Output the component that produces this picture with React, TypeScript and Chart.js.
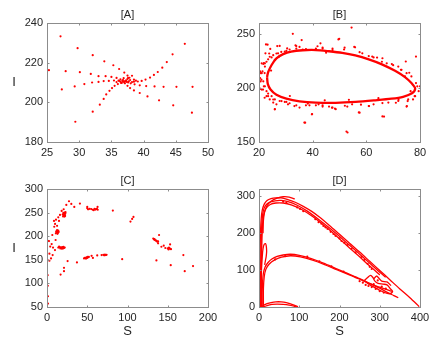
import React, { useEffect, useRef } from 'react';
import { Chart, registerables } from 'chart.js';
Chart.register(...registerables);

type P = [number, number];
const W = 435, H = 345;
const FONT = '"Liberation Sans", Arial, Helvetica, sans-serif';
const TEXT = '#262626';
const AXIS = '#8c8c8c';
const RED = '#ff0000';

// ---------- Panel A ----------
const aTicksX = [25, 30, 35, 40, 45, 50];
const aTicksY = [180, 200, 220, 240];
const aPoints: P[] = [
  [27.1, 233.3], [29.75, 227.3], [32.1, 223.8], [33.9, 220.7], [35.3, 218.7], [36.2, 216.8], [37.0, 215], [37.5, 213.5], [37.6, 212.3],
  [25.3, 216.2], [27.9, 215.7], [30.1, 215.2], [31.8, 214.3], [33.0, 213.2], [34.1, 213.2], [35.0, 212.8], [35.8, 212.3], [36.4, 211.6],
  [27.3, 206.5], [29.3, 208], [30.8, 209.2], [32.0, 210], [33.0, 210.3], [33.8, 210.7], [34.6, 210.8], [35.4, 211], [36.1, 211],
  [29.4, 190.2], [32.1, 195.3], [33.2, 198.8], [33.8, 201.7], [34.2, 204], [34.7, 205.8], [35.1, 207.2], [35.5, 208.3], [36.0, 209.2], [36.5, 209.8],
  [46.4, 229.5], [44.5, 224.2], [43.6, 220.3], [42.9, 217.5], [42.2, 215.3], [41.6, 213.8], [41.0, 212.5], [40.3, 211.5], [39.7, 210.8], [39.1, 210.5], [38.5, 210.4],
  [47.6, 207.8], [45.1, 207.8], [43.1, 207.8], [41.7, 208], [40.4, 208.2], [39.4, 208.6], [38.6, 209.1], [38.0, 209.6],
  [47.5, 194.8], [44.6, 198.5], [42.4, 201], [40.6, 203], [39.4, 204.7], [38.5, 206], [37.9, 207.2], [37.5, 208.3],
  [36.8, 211.2], [37.3, 211.1], [37.7, 210.6], [37.6, 210], [37.1, 209.6], [36.6, 209.8], [36.4, 210.4], [36.7, 210.9],
  [37.2, 210.8], [37.4, 210.3], [37.0, 210.0], [36.8, 210.4], [37.1, 210.6], [37.9, 211.2], [38.2, 210.2], [36.2, 210.8],
  [35.8, 210.2], [37.5, 211.8], [38.5, 211.5], [38.8, 210.9], [37.8, 212.4], [38.2, 213.4], [36.9, 212.2]
];

// ---------- Panel B ----------
const bTicksX = [20, 40, 60, 80];
const bTicksY = [150, 200, 250];
const bLoop: P[] = [
  [23.0, 210], [23.4, 214.5], [24.7, 221.2], [26.5, 227.3], [29.0, 231.2], [32.0, 233.6], [36.3, 234.8], [41.2, 235.0],
  [46.1, 233.9], [51.0, 232.4], [55.9, 230], [60.9, 226.4], [65.8, 221.8], [70.7, 215.8], [74.4, 210], [76.8, 204.5],
  [78.2, 199.5], [77.0, 195.0], [73.7, 191.8], [69.4, 190], [63.3, 188.5], [56.0, 187], [48.6, 186.2], [41.2, 186.4],
  [35.1, 187.6], [30.2, 190], [26.5, 193.6], [24.3, 198.5], [23.3, 203.5], [23.0, 210]
];
const bNoise: P[] = [
  [23.2, 240], [27.7, 238.8], [32.6, 250], [33.6, 239.4], [35.1, 237.9], [37.5, 235.8], [41.8, 238.5], [43.7, 236.4],
  [49.6, 244.8], [51.7, 235.5], [54.5, 255.8], [55.5, 237.9], [60.9, 229.4], [62.7, 228.2], [65.8, 224.2], [67.6, 222.7],
  [71.9, 219.7], [73.1, 216.7], [75.0, 213.6], [76.8, 210.6], [79.0, 201.5], [78.5, 204.5],
  [21.0, 222.7], [21.3, 215.2], [22.2, 219.7], [23.8, 231.8], [24.0, 228.8], [20.6, 213.6], [20.4, 209.1], [21.6, 206.1],
  [21.8, 201.5], [21.0, 198.5], [22.8, 192.4], [24.0, 189.4], [25.3, 186.4], [25.9, 180.3], [26.5, 184.8],
  [29.6, 187], [30.8, 184.8], [35.1, 181.8], [37.5, 183.9], [38.2, 185.5], [39.8, 175.8], [41.2, 183.9], [43.7, 182.7],
  [47.4, 181.8], [48.6, 180.3], [52.9, 182.7], [54.7, 184.8], [57.2, 177.3], [60.9, 183.3], [62.7, 184.8], [66.0, 173.6],
  [68.2, 186.4], [71.9, 187.9], [75.0, 182.7], [75.6, 189.4], [78.0, 192.4], [77.4, 189.4], [37.2, 167.9], [52.6, 159.7],
  [22.4, 232], [25.9, 225.9], [27.1, 232], [29.6, 233.5], [25.3, 189.3], [28.4, 187.8], [42.2, 184.8], [47.2, 181.7],
  [61.0, 183.2], [71.0, 186.3], [22.1, 190.9], [21.5, 198.5], [22.1, 213.7], [74.4, 210.7], [72.9, 216.8], [66.0, 227.4],
  [62.2, 229], [78.5, 229], [74.7, 224.4], [80.0, 201.5], [78.2, 192.4], [75.1, 183.2], [75.4, 187.8], [26.8, 238.7],
  [33.9, 238.7], [47.4, 235], [51.9, 237.2], [55.8, 237.5], [35.9, 244.2], [49.9, 245.4], [42.9, 241.2], [22.6, 240.2],
  [21.8, 222.9], [20.4, 215.2], [20.9, 207.6], [20.4, 199.1], [23.4, 192.4], [25.9, 180.2], [33.2, 183.2], [36.9, 168],
  [39.7, 175.6], [53.0, 158.8], [57.5, 177.1], [66.6, 173.5], [24.2, 236], [30.5, 236.5], [58.5, 232], [69.5, 222],
  [44.5, 188.5], [53.5, 189], [31.5, 192.5], [64.5, 190.5], [76.5, 197], [24.5, 216], [27.5, 229], [45, 232.5],
  [21.6, 222.1], [22.2, 222.7], [22.8, 224.2], [23.4, 226.4], [24.7, 228.2], [25.3, 230.3], [26.5, 231.8], [28.3, 233.3],
  [30.2, 234.2], [31.4, 235.5], [33.9, 236.4], [36.3, 235.5], [41.2, 236.4], [43.7, 237.3], [47.4, 236.4], [21.0, 213.6],
  [20.6, 206.0], [20.1, 200.0], [22.2, 201.5], [22.8, 197.0], [23.4, 194.8], [24.7, 192.4], [25.9, 189.4], [27.7, 187.9],
  [30.2, 187.0], [31.4, 185.8], [33.9, 183.9], [38.8, 183.9], [43.7, 183.9], [46.1, 182.7], [48.3, 180.9],
  [57.5, 233], [64, 228], [70, 221], [76, 214], [79.5, 197], [72, 189], [66, 186], [58, 184.5], [52, 183.5]
];

// ---------- Panel C ----------
const cTicksX = [0, 50, 100, 150, 200];
const cTicksY = [50, 100, 150, 200, 250, 300];
const cPoints: P[] = [
  [27.3, 274], [30.2, 268.4], [33.9, 262], [40.9, 269.1], [24, 266.3], [20.7, 257.1], [18.2, 253.5],
  [20, 242], [20.5, 245], [21, 248], [21.5, 250], [22, 246], [22.5, 243], [21.2, 244], [20.2, 249], [22.8, 248], [19.5, 246], [21.8, 241.5], [23, 251],
  [16.1, 245], [14, 240], [11.2, 235.1], [8.7, 232.3], [14.9, 232.3], [10, 226], [9, 220], [12.5, 222],
  [11, 206], [12, 208], [13, 210], [14, 212], [12.5, 213], [11.5, 210], [13.5, 207], [14.5, 209], [12, 211], [13, 205],
  [6.6, 202.5], [10.7, 191.9], [5.8, 183.4], [2.5, 189.7], [1, 190], [4, 178], [7.5, 176],
  [14, 176], [15, 178], [16, 177], [17, 175.5], [18, 176], [19, 177], [20, 174], [21, 175], [22, 176], [20.5, 177.5], [16.5, 174], [18.5, 173.5],
  [9.9, 170.6], [5, 152.9], [3, 148], [0.8, 149.3], [25.6, 147.2], [37.2, 144.4], [21.1, 133], [16.9, 118.8], [21.1, 125.9],
  [0.8, 117.4], [1, 95], [1.2, 72.8], [1.2, 57.2], [3, 163], [7, 160],
  [46, 153], [47, 154], [48, 153.5], [49, 155], [50, 154], [51, 155.5], [52, 156], [48.5, 152.5], [50.5, 156.5],
  [55.4, 158.5], [62.4, 159.2], [57, 154], [67.8, 160], [70, 160.5], [71, 159.5], [72, 161], [73, 160], [74, 160.5],
  [50, 262], [50, 259.2], [51, 257], [53, 258], [55, 257.5], [57, 256], [59, 258], [60, 256.5], [61, 257.5], [62, 258], [63, 256], [58, 255], [62.8, 262],
  [81.8, 254.3], [93.4, 151.4], [103.7, 230.9], [105.8, 236.5], [107.4, 240.8],
  [132, 195], [133, 193], [134, 192], [135, 191], [136, 190], [137, 188.5], [138, 189], [133.5, 194],
  [139.2, 202.5], [138, 184.8], [142.1, 177.7], [145, 180], [147, 175],
  [150, 174], [151, 172], [152, 175], [153, 173], [154, 172.5], [151.5, 176], [152.9, 182.6],
  [135.9, 148.6], [153.7, 138.7], [169.4, 160], [171.1, 125.9], [181.4, 136.6]
];

// ---------- Panel D ----------
const dTicksX = [0, 100, 200, 300, 400];
const dTicksY = [0, 100, 200, 300];
const dOuter: P[] = [
  [2, 0], [2, 60], [2.5, 120], [3, 170], [4, 210], [5.5, 240], [8, 262], [13, 279], [20, 289], [30, 294], [42, 296],
  [55, 296], [70, 292], [90, 284], [110, 273], [130, 260], [150, 244], [175, 221], [200, 197], [225, 173], [250, 149],
  [275, 124], [300, 99], [325, 74], [350, 49], [375, 25], [398, 1]
];
const dStrand2: P[] = [
  [4, 0], [4, 80], [5, 150], [6, 200], [8, 240], [11, 262], [17, 276], [26, 284], [40, 288], [55, 289], [72, 286],
  [95, 276], [120, 260], [150, 236], [180, 210], [210, 182], [240, 153], [265, 129], [285, 109], [300, 94], [315, 81]
];
const dStrand3: P[] = [
  [6, 0], [6, 100], [7, 170], [9, 225], [12, 252], [18, 268], [28, 278], [42, 282], [60, 282], [80, 277], [105, 265],
  [135, 244], [165, 218], [195, 190], [225, 160], [250, 136], [270, 116], [288, 99], [300, 87]
];
const dStrand4: P[] = [
  [10, 200], [11, 235], [14, 258], [20, 275], [30, 287], [45, 295], [60, 299], [75, 298], [89, 293]
];
const dSpike: P[] = [[0.8, 0], [0.8, 100], [1, 180], [1.2, 225]];
const dMid1: P[] = [
  [8, 0], [8, 40], [9, 70], [11, 92], [15, 108], [22, 120], [32, 130], [45, 137], [60, 141], [78, 143], [100, 140],
  [130, 131], [160, 119], [190, 105], [220, 91], [250, 77], [275, 64], [300, 51], [320, 39], [335, 31], [346, 25]
];
const dMid2: P[] = [
  [11, 0], [11, 50], [13, 82], [17, 102], [25, 116], [38, 127], [56, 135], [78, 139], [103, 136], [133, 127],
  [163, 115], [193, 101], [223, 88], [253, 74], [278, 62], [300, 54], [318, 47], [330, 42]
];
const dLoop: P[] = [
  [5, 0], [5, 50], [6, 100], [8, 135], [10, 158], [13, 170], [16, 172], [18, 166], [19, 152], [18, 138], [16, 126], [14, 114]
];
const dHook1: P[] = [
  [262, 72], [270, 80], [277, 86], [283, 80], [288, 70], [296, 64], [308, 62], [318, 60], [326, 50], [332, 42],
  [325, 36], [310, 40], [296, 48], [282, 56], [270, 64], [262, 72]
];
const dHook2: P[] = [[285, 76], [292, 84], [298, 78], [305, 70], [318, 68], [328, 58]];
const dArc1: P[] = [[6, 0], [12, 5], [20, 9], [30, 12], [42, 14], [55, 14], [68, 12], [80, 8], [90, 4], [97, 1]];
const dArc2: P[] = [[10, 0], [20, 4], [32, 7], [45, 8], [60, 7], [75, 5], [88, 2], [95, 0]];
const dDots: P[] = [
  [95, 270], [102, 266], [110, 260], [140, 238], [148, 230], [155, 226], [160, 220], [165, 216], [170, 212],
  [178, 204], [185, 198], [190, 193], [200, 186], [205, 179], [212, 174], [220, 168], [230, 158], [240, 148],
  [255, 136], [262, 128], [270, 117], [275, 109], [280, 103], [60, 286], [68, 283],
  [250, 70], [258, 66], [265, 60], [272, 57], [280, 54], [290, 49], [300, 43], [310, 39], [285, 62], [295, 72],
  [305, 55], [315, 50], [120, 137], [150, 124], [180, 110], [210, 96], [40, 129], [65, 138]
];

interface Axis { min: number; max: number; ticks: number[] }
interface PanelDef {
  title: string;
  area: { l: number; t: number; r: number; b: number };
  x: Axis; y: Axis;
  xLabel?: string; yLabel?: string;
  points: P[][];
  curves: P[][];
  curveWidth: number;
}

const panels: PanelDef[] = [
  { title: '[A]', area: { l: 47, t: 23, r: 208, b: 142 }, x: { min: 25, max: 50, ticks: aTicksX }, y: { min: 180, max: 240, ticks: aTicksY },
    yLabel: 'I', points: [aPoints], curves: [], curveWidth: 1 },
  { title: '[B]', area: { l: 259, t: 23, r: 420, b: 142 }, x: { min: 20, max: 80, ticks: bTicksX }, y: { min: 150, max: 260, ticks: bTicksY },
    points: [bNoise], curves: [bLoop], curveWidth: 2.3 },
  { title: '[C]', area: { l: 47, t: 189, r: 208, b: 307 }, x: { min: 0, max: 200, ticks: cTicksX }, y: { min: 50, max: 300, ticks: cTicksY },
    xLabel: 'S', yLabel: 'I', points: [cPoints], curves: [], curveWidth: 1 },
  { title: '[D]', area: { l: 259, t: 189, r: 420, b: 307 }, x: { min: 0, max: 400, ticks: dTicksX }, y: { min: 0, max: 320, ticks: dTicksY },
    xLabel: 'S', points: [dDots],
    curves: [dOuter, dStrand2, dStrand3, dStrand4, dSpike, dMid1, dMid2, dLoop, dHook1, dHook2, dArc1, dArc2], curveWidth: 1.3 },
];

function Panel({ def }: { def: PanelDef }) {
  const ref = useRef<HTMLCanvasElement>(null);
  useEffect(() => {
    const canvas = ref.current;
    if (!canvas) return;
    const { l, t, r, b } = def.area;
    const YW = 40, XH = 20;
    const datasets: any[] = [];
    def.curves.forEach((c) => datasets.push({
      data: c.map(([x, y]) => ({ x, y })), showLine: true, borderColor: RED, borderWidth: def.curveWidth,
      pointRadius: 0, tension: 0.3, fill: false,
    }));
    def.points.forEach((c) => datasets.push({
      data: c.map(([x, y]) => ({ x, y })), showLine: false, backgroundColor: RED, borderWidth: 0,
      pointRadius: 1.1, pointHoverRadius: 1.1,
    }));
    const frame = {
      id: 'frame',
      afterDraw(chart: any) {
        const ctx = chart.ctx;
        const a = chart.chartArea;
        const xs = chart.scales.x, ys = chart.scales.y;
        ctx.save();
        ctx.strokeStyle = AXIS;
        ctx.lineWidth = 1;
        const L = Math.round(a.left) + 0.5, R = Math.round(a.right) + 0.5;
        const T = Math.round(a.top) + 0.5, B = Math.round(a.bottom) + 0.5;
        ctx.strokeRect(L, T, R - L, B - T);
        ctx.beginPath();
        def.x.ticks.forEach((v) => {
          const px = Math.round(xs.getPixelForValue(v)) + 0.5;
          ctx.moveTo(px, B); ctx.lineTo(px, B - 2);
          ctx.moveTo(px, T); ctx.lineTo(px, T + 2);
        });
        def.y.ticks.forEach((v) => {
          const py = Math.round(ys.getPixelForValue(v)) + 0.5;
          ctx.moveTo(L, py); ctx.lineTo(L + 2, py);
          ctx.moveTo(R, py); ctx.lineTo(R - 2, py);
        });
        ctx.stroke();
        ctx.fillStyle = TEXT;
        ctx.textAlign = 'center';
        ctx.textBaseline = 'middle';
        ctx.font = `11px ${FONT}`;
        ctx.fillText(def.title, (a.left + a.right) / 2, a.top - 8);
        ctx.font = `13px ${FONT}`;
        if (def.yLabel) ctx.fillText(def.yLabel, 14, (a.top + a.bottom) / 2);
        if (def.xLabel) ctx.fillText(def.xLabel, (a.left + a.right) / 2, a.bottom + 24);
        ctx.restore();
      },
    };
    const tickOpts = { padding: 4, font: { family: FONT, size: 11 }, color: TEXT, maxRotation: 0, autoSkip: false };
    const chart = new Chart(canvas, {
      type: 'scatter',
      data: { datasets },
      options: {
        responsive: false,
        maintainAspectRatio: false,
        animation: false,
        events: [],
        layout: { padding: { left: l - YW, top: t, right: W - r, bottom: H - b - XH } },
        plugins: { legend: { display: false }, tooltip: { enabled: false }, title: { display: false } },
        scales: {
          x: {
            type: 'linear', min: def.x.min, max: def.x.max,
            afterBuildTicks: (s: any) => { s.ticks = def.x.ticks.map((v) => ({ value: v })); },
            afterFit: (s: any) => { s.height = XH; },
            grid: { display: false, drawTicks: false }, border: { display: false },
            ticks: tickOpts,
          },
          y: {
            type: 'linear', min: def.y.min, max: def.y.max,
            afterBuildTicks: (s: any) => { s.ticks = def.y.ticks.map((v) => ({ value: v })); },
            afterFit: (s: any) => { s.width = YW; },
            grid: { display: false, drawTicks: false }, border: { display: false },
            ticks: tickOpts,
          },
        },
      } as any,
      plugins: [frame],
    });
    return () => chart.destroy();
  }, [def]);
  return <canvas ref={ref} width={W} height={H} style={{ position: 'absolute', left: 0, top: 0, width: W, height: H }} />;
}

export default function App() {
  return (
    <div style={{ position: 'fixed', left: 0, top: 0, width: W, height: H, background: '#ffffff', overflow: 'hidden' }}>
      {panels.map((p, i) => <Panel key={i} def={p} />)}
    </div>
  );
}
